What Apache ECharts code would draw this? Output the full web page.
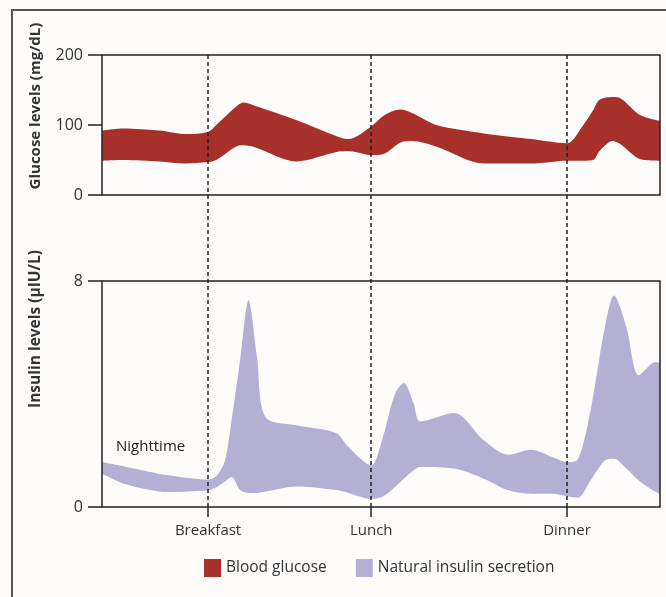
<!DOCTYPE html>
<html>
<head>
<meta charset="utf-8">
<script src="https://cdn.jsdelivr.net/npm/echarts@6/dist/echarts.min.js"></script>
<style>
  html, body { margin: 0; padding: 0; background: #fdfcfb; }
  #chart { width: 666px; height: 597px; }
</style>
</head>
<body>
<div id="chart"></div>
<script>
// time of day (hours)
const mealTimes = [7, 12, 18];
const mealLabels = ['Breakfast', 'Lunch', 'Dinner'];

// blood glucose band (mg/dL)
const glucoseX = [3.75, 4.4, 5.5, 6.3, 7.0, 7.25, 7.9, 8.1, 8.45, 9.7, 11.0, 11.3, 12.0, 12.4, 12.9, 13.25, 14.0, 15.45, 16.9, 18.0, 18.5, 18.8, 19.0, 19.4, 19.65, 20.25, 20.85];
const glucoseHigh = [92, 95, 92, 87, 90, 100, 128, 132, 127, 107, 83, 80, 98, 114, 122, 117, 100, 88, 80, 74, 100, 121, 136, 140, 138, 114, 106];
const glucoseLow = [49, 50, 48, 45, 47, 50, 70, 71, 68, 48, 62, 63, 57, 59, 75, 77, 69, 45, 45, 49, 49, 50, 63, 77, 72, 51, 49];

// natural insulin secretion band (µIU/L)
const insulinX = [3.75, 4.5, 5.8, 7.0, 7.27, 7.52, 7.72, 7.98, 8.24, 8.5, 8.76, 9.72, 10.92, 11.3, 12.0, 12.33, 12.73, 13.0, 13.3, 13.5, 14.55, 15.45, 16.2, 16.9, 17.55, 18.0, 18.33, 18.72, 19.16, 19.44, 19.82, 20.2, 20.72, 20.85];
const insulinHigh = [1.59, 1.42, 1.12, 0.97, 1.12, 1.65, 3.07, 5.19, 7.32, 5.31, 3.19, 2.89, 2.62, 2.12, 1.47, 2.36, 4.01, 4.39, 3.66, 3.03, 3.33, 2.36, 1.85, 2.03, 1.77, 1.59, 1.68, 3.42, 6.37, 7.49, 6.37, 4.66, 5.13, 5.1];
const insulinLow = [1.18, 0.80, 0.53, 0.59, 0.71, 0.9, 1.06, 0.6, 0.5, 0.5, 0.55, 0.73, 0.6, 0.5, 0.29, 0.35, 0.71, 1.0, 1.30, 1.42, 1.36, 1.0, 0.59, 0.47, 0.47, 0.38, 0.33, 0.94, 1.65, 1.71, 1.36, 0.94, 0.53, 0.45];

const RED = '#a8302b';
const LAVENDER = '#b3b0d4';
const BG = '#fdfcfb';
const FONT = 'Open Sans';

const myChart = echarts.init(document.getElementById('chart'));

const xBase = {
  type: 'value',
  min: 3.75,
  max: 20.85,
  axisLine: { show: false },
  axisTick: { show: false },
  axisLabel: { show: false },
  splitLine: { show: false },
};

const yBase = {
  type: 'value',
  axisLine: { show: false },
  axisTick: { show: true, length: 14, lineStyle: { color: '#222', width: 1.5 } },
  axisLabel: { fontFamily: FONT, fontSize: 16, color: '#333', margin: 19 },
  splitLine: { show: false },
};

// a band = coloured area under the upper edge, covered below the lower edge
const band = (name, xs, low, high, color, axis) => [
  {
    name: name,
    type: 'line',
    xAxisIndex: axis,
    yAxisIndex: axis,
    smooth: 0.3,
    symbol: 'none',
    z: 2,
    itemStyle: { color: color },
    lineStyle: { opacity: 0 },
    areaStyle: { color: color, opacity: 1 },
    data: xs.map((x, i) => [x, high[i]]),
  },
  {
    type: 'line',
    xAxisIndex: axis,
    yAxisIndex: axis,
    smooth: 0.3,
    symbol: 'none',
    silent: true,
    z: 3,
    lineStyle: { opacity: 0 },
    areaStyle: { color: BG, opacity: 1 },
    data: xs.map((x, i) => [x, low[i]]),
  },
];

myChart.setOption({
  animation: false,
  backgroundColor: BG,
  textStyle: { fontFamily: FONT },
  grid: [
    { left: 102, top: 55, width: 558, height: 140, show: true, z: 8, borderColor: '#222', borderWidth: 1.5, backgroundColor: 'transparent' },
    { left: 102, top: 281, width: 558, height: 226, show: true, z: 8, borderColor: '#222', borderWidth: 1.5, backgroundColor: 'transparent' },
    { left: 102, top: 55, width: 558, height: 452, show: false },
  ],
  xAxis: [
    Object.assign({ gridIndex: 0 }, xBase),
    Object.assign({}, xBase, {
      gridIndex: 1,
      axisTick: { show: true, customValues: mealTimes, length: 10, lineStyle: { color: '#222', width: 1.5 } },
      axisLabel: {
        show: true,
        customValues: mealTimes,
        formatter: (v) => mealLabels[mealTimes.indexOf(v)],
        fontFamily: FONT,
        fontSize: 15,
        color: '#333',
        margin: 16,
      },
    }),
    Object.assign({ gridIndex: 2 }, xBase),
  ],
  yAxis: [
    Object.assign({}, yBase, { gridIndex: 0, min: 0, max: 200, interval: 100 }),
    Object.assign({}, yBase, { gridIndex: 1, min: 0, max: 8, interval: 8 }),
    { type: 'value', gridIndex: 2, min: 0, max: 1, show: false },
  ],
  legend: {
    left: 204,
    top: 559,
    padding: 0,
    itemWidth: 17,
    itemHeight: 18,
    itemGap: 29,
    icon: 'rect',
    selectedMode: false,
    textStyle: { fontFamily: FONT, fontSize: 15.5, color: '#333' },
    data: ['Blood glucose', 'Natural insulin secretion'],
  },
  graphic: [
    {
      type: 'rect',
      shape: { x: 12, y: 10, width: 700, height: 650 },
      style: { fill: null, stroke: '#555', lineWidth: 2 },
      silent: true,
    },
    {
      type: 'text',
      x: 36, y: 106,
      rotation: Math.PI / 2,
      style: { text: 'Glucose levels (mg/dL)', font: 'bold 15px "Open Sans"', fill: '#333', align: 'center', verticalAlign: 'middle' },
    },
    {
      type: 'text',
      x: 36, y: 329,
      rotation: Math.PI / 2,
      style: { text: 'Insulin levels (µIU/L)', font: 'bold 15.5px "Open Sans"', fill: '#333', align: 'center', verticalAlign: 'middle' },
    },
    {
      type: 'text',
      x: 116, y: 447,
      z: 20,
      style: { text: 'Nighttime', font: '15px "Open Sans"', fill: '#222', verticalAlign: 'middle' },
    },
  ],
  series: [
    ...band('Blood glucose', glucoseX, glucoseLow, glucoseHigh, RED, 0),
    ...band('Natural insulin secretion', insulinX, insulinLow, insulinHigh, LAVENDER, 1),
    {
      type: 'line',
      xAxisIndex: 2,
      yAxisIndex: 2,
      data: [],
      z: 10,
      markLine: {
        silent: true,
        symbol: 'none',
        label: { show: false },
        lineStyle: { color: '#222', type: [4, 3], width: 1.5 },
        data: mealTimes.map((t) => ({ xAxis: t })),
      },
    },
  ],
});
</script>
</body>
</html>
